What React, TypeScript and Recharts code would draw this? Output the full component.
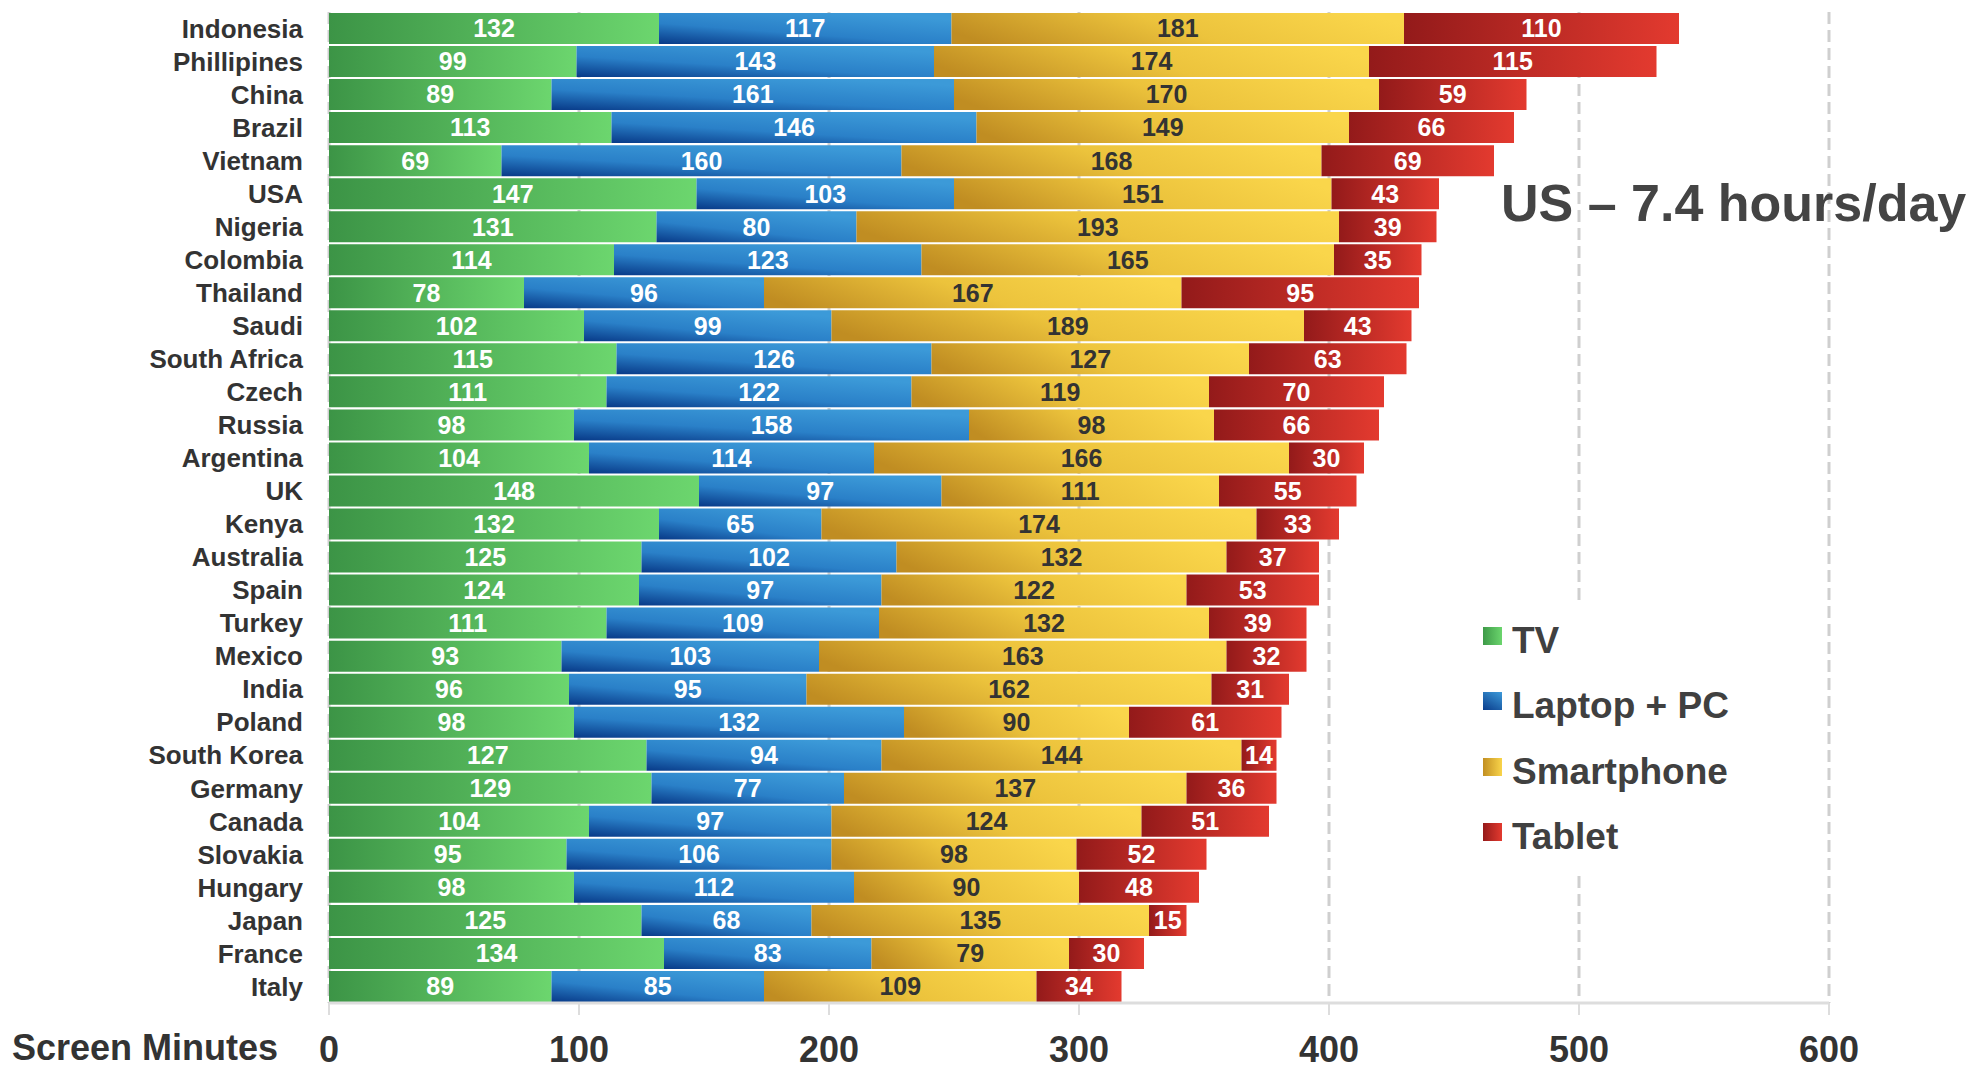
import React from "react";
import { BarChart, Bar, XAxis, YAxis, CartesianGrid, LabelList } from "recharts";

const countries = [
  "Indonesia", "Phillipines", "China", "Brazil", "Vietnam", "USA", "Nigeria", "Colombia",
  "Thailand", "Saudi", "South Africa", "Czech", "Russia", "Argentina", "UK", "Kenya",
  "Australia", "Spain", "Turkey", "Mexico", "India", "Poland", "South Korea", "Germany",
  "Canada", "Slovakia", "Hungary", "Japan", "France", "Italy",
];
const tv = [132, 99, 89, 113, 69, 147, 131, 114, 78, 102, 115, 111, 98, 104, 148, 132, 125, 124, 111, 93, 96, 98, 127, 129, 104, 95, 98, 125, 134, 89];
const laptop = [117, 143, 161, 146, 160, 103, 80, 123, 96, 99, 126, 122, 158, 114, 97, 65, 102, 97, 109, 103, 95, 132, 94, 77, 97, 106, 112, 68, 83, 85];
const smartphone = [181, 174, 170, 149, 168, 151, 193, 165, 167, 189, 127, 119, 98, 166, 111, 174, 132, 122, 132, 163, 162, 90, 144, 137, 124, 98, 90, 135, 79, 109];
const tablet = [110, 115, 59, 66, 69, 43, 39, 35, 95, 43, 63, 70, 66, 30, 55, 33, 37, 53, 39, 32, 31, 61, 14, 36, 51, 52, 48, 15, 30, 34];
const xTicks = [0, 100, 200, 300, 400, 500, 600];

const seriesKeys = ["tv", "laptop", "smartphone", "tablet"];
const seriesNames = ["TV", "Laptop + PC", "Smartphone", "Tablet"];
const labelColors = ["#ffffff", "#ffffff", "#333333", "#ffffff"];

const data = countries.map((name, i) => ({
  name,
  tv: tv[i],
  laptop: laptop[i],
  smartphone: smartphone[i],
  tablet: tablet[i],
}));

const FONT = "'Liberation Sans', Arial, sans-serif";

const legendGradients = [
  "linear-gradient(90deg, #3e9a48, #6bd56d)",
  "linear-gradient(30deg, #0a3d8c, #3d9ad9)",
  "linear-gradient(90deg, #c28f22, #f9d44a)",
  "linear-gradient(90deg, #951a1a, #e33a2f)",
];

export default function App() {
  return (
    <div style={{ position: "absolute", left: 0, top: 0, width: 1984, height: 1071, fontFamily: FONT, background: "#fff" }}>
      <BarChart
        width={1984}
        height={1071}
        data={data}
        layout="vertical"
        margin={{ top: 12, right: 155, bottom: 0, left: 0 }}
        barCategoryGap={1}
      >
        <defs>
          <linearGradient id="gTV" x1="0" y1="0" x2="1" y2="0">
            <stop offset="0" stopColor="#3c9446" />
            <stop offset="1" stopColor="#6cd66e" />
          </linearGradient>
          <linearGradient id="gLaptop" x1="0" y1="1" x2="0.7" y2="0">
            <stop offset="0" stopColor="#083a88" />
            <stop offset="0.45" stopColor="#2a80c8" />
            <stop offset="1" stopColor="#3c9ad8" />
          </linearGradient>
          <linearGradient id="gSmart" x1="0" y1="0.6" x2="1" y2="0.4">
            <stop offset="0" stopColor="#c08d22" />
            <stop offset="0.5" stopColor="#ecc33c" />
            <stop offset="1" stopColor="#fad64b" />
          </linearGradient>
          <linearGradient id="gTablet" x1="0" y1="0" x2="1" y2="0">
            <stop offset="0" stopColor="#931a1a" />
            <stop offset="1" stopColor="#e33a2f" />
          </linearGradient>
        </defs>
        <CartesianGrid horizontal={false} vertical={true} stroke="#cfcfcf" strokeWidth={3} strokeDasharray="12 6" />
        <XAxis
          type="number"
          domain={[0, 600]}
          ticks={xTicks}
          height={68}
          axisLine={{ stroke: "#dddddd", strokeWidth: 3 }}
          tickLine={{ stroke: "#dddddd", strokeWidth: 2 }}
          tickSize={12}
          tickMargin={21}
          tick={{ fill: "#333333", fontSize: 36, fontWeight: "bold", fontFamily: FONT }}
          allowDataOverflow
        />
        <YAxis
          type="category"
          dataKey="name"
          width={329}
          axisLine={false}
          tickLine={false}
          tickSize={8}
          tickMargin={18}
          interval={0}
          tick={{ fill: "#333333", fontSize: 26, fontWeight: "bold", fontFamily: FONT }}
        />
        {seriesKeys.map((k, i) => (
          <Bar
            key={k}
            dataKey={k}
            name={seriesNames[i]}
            stackId="a"
            fill={`url(#${["gTV", "gLaptop", "gSmart", "gTablet"][i]})`}
            isAnimationActive={false}
          >
            <LabelList
              dataKey={k}
              position="center"
              fill={labelColors[i]}
              fontSize={25}
              fontWeight="bold"
              fontFamily={FONT}
            />
          </Bar>
        ))}
      </BarChart>

      <div
        style={{
          position: "absolute",
          left: 1501,
          top: 177,
          fontSize: 52,
          lineHeight: "52px",
          fontWeight: "bold",
          color: "#444444",
          whiteSpace: "nowrap",
        }}
      >
        US – 7.4 hours/day
      </div>

      <div
        style={{
          position: "absolute",
          left: 12,
          top: 1030,
          fontSize: 36,
          lineHeight: "36px",
          fontWeight: "bold",
          color: "#333333",
          whiteSpace: "nowrap",
        }}
      >
        Screen Minutes
      </div>

      <div style={{ position: "absolute", left: 1476, top: 604, width: 290, height: 268, background: "#ffffff" }}>
        {seriesNames.map((n, i) => (
          <div key={n}>
            <div
              style={{
                position: "absolute",
                left: 7,
                top: 23 + i * 65.3,
                width: 19,
                height: 18,
                background: legendGradients[i],
              }}
            />
            <div
              style={{
                position: "absolute",
                left: 36,
                top: 18 + i * 65.3,
                fontSize: 37,
                lineHeight: "37px",
                fontWeight: "bold",
                color: "#404040",
                whiteSpace: "nowrap",
              }}
            >
              {n}
            </div>
          </div>
        ))}
      </div>
    </div>
  );
}
